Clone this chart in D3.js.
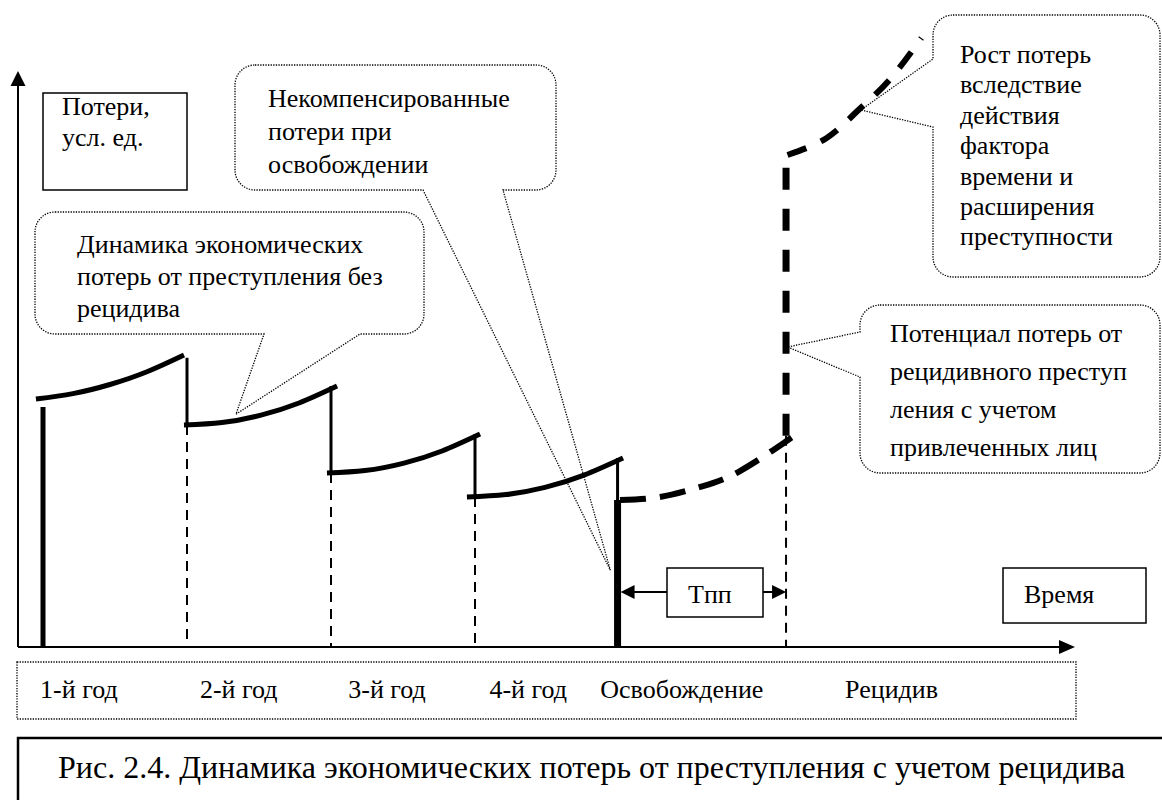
<!DOCTYPE html>
<html>
<head>
<meta charset="utf-8">
<script src="https://cdn.jsdelivr.net/npm/d3@7"></script>
<style>
    body { margin: 0; background: #fff; }
</style>
</head>
<body>
<div id="svgcontainer"></div>
<script>
// losses, conventional units; time in years since the crime
var lossSegments = [
    [[-0.049, 41.33], [0.208, 42.23], [0.465, 43.75], [0.722, 45.88], [0.979, 48.67]],
    [[0.979, 37.0], [1.243, 37.4], [1.514, 38.65], [1.778, 40.67], [2.042, 43.5]],
    [[1.972, 29.0], [2.236, 29.4], [2.507, 30.65], [2.771, 32.67], [3.035, 35.5]],
    [[2.944, 25.0], [3.215, 25.4], [3.486, 26.6], [3.757, 28.65], [4.028, 31.5]]
];
var relapseCurve = [[4.007, 24.5], [4.285, 25.0], [4.563, 26.67], [4.84, 29.33], [5.174, 34.5], [5.222, 35.17]];
var growthCurve = [[5.17, 82.0], [5.44, 84.8], [5.65, 89.2], [5.87, 94.3], [6.1, 101.5]];

// thin solid drops at year ends
var yearDrops = [
    { x: 1.0, from: 48.2, to: 37.0 },
    { x: 2.0, from: 43.5, to: 29.0 },
    { x: 3.0, from: 35.5, to: 25.0 },
    { x: 3.99, from: 31.5, to: 24.5 }
];
// thin dashed guides down to the time axis
var guides = [
    { x: 1.0, from: 37.0 },
    { x: 2.0, from: 29.0 },
    { x: 3.0, from: 25.0 },
    { x: 5.16, from: 35.2 }
];
// thick solid bars: start of sentence, release
var bars = [
    { x: 0.0, from: 40.0, w: 5 },
    { x: 3.99, from: 24.5, w: 7 }
];
var relapseJump = { x: 5.16, from: 35.2, to: 82.0 };
var tppSpan = [3.99, 5.16];

var periodLabels = ["1-й год", "2-й год", "3-й год", "4-й год", "Освобождение", "Рецидив"];
var periodStart = [-0.02, 1.09, 2.12, 3.10, 3.87, 5.57];

var notes = [
    { lines: ["Некомпенсированные", "потери при", "освобождении"], tip: [3.94, 12.8] },
    { lines: ["Динамика экономических", "потерь от преступления без", "рецидива"], tip: [1.34, 38.8] },
    { lines: ["Рост потерь", "вследствие", "действия", "фактора", "времени и", "расширения", "преступности"], tip: [5.68, 89.5] },
    { lines: ["Потенциал потерь от", "рецидивного преступ", "ления с учетом", "привлеченных лиц"], tip: [5.17, 50.0] }
];

var caption = "Рис. 2.4. Динамика экономических потерь от преступления с учетом рецидива";

window.onload = function () {

    var width = 1162;
    var height = 800;
    var FONT = 26;
    var FAMILY = "'Liberation Serif', 'DejaVu Serif', serif";

    var x = d3.scaleLinear().domain([0, 4]).range([43, 619]);
    var y = d3.scaleLinear().domain([0, 100]).range([647, 47]);

    var svg = d3.select("#svgcontainer")
        .append("svg").attr("width", width).attr("height", height)
        .attr("font-family", FAMILY);

    function label(sel) {
        return sel.attr("font-family", FAMILY).attr("font-size", FONT).attr("fill", "#000");
    }

    var curve = d3.line()
        .x(function (d) { return x(d[0]); })
        .y(function (d) { return y(d[1]); })
        .curve(d3.curveNatural);

    // Axes
    var x0 = 18, xEnd = 1075, y0 = y(0), yTop = 71;
    svg.append("line").attr("x1", x0).attr("y1", y0).attr("x2", x0).attr("y2", yTop + 12)
        .attr("stroke", "#000").attr("stroke-width", 2);
    svg.append("path").attr("d", "M" + x0 + "," + yTop + "L" + (x0 - 7.5) + "," + (yTop + 15) + "L" + (x0 + 7.5) + "," + (yTop + 15) + "Z");
    svg.append("line").attr("x1", x0).attr("y1", y0).attr("x2", xEnd - 12).attr("y2", y0)
        .attr("stroke", "#000").attr("stroke-width", 2);
    svg.append("path").attr("d", "M" + xEnd + "," + y0 + "L" + (xEnd - 16) + "," + (y0 - 7) + "L" + (xEnd - 16) + "," + (y0 + 7) + "Z");

    // Guides
    svg.selectAll(".guide").data(guides).enter().append("line")
        .attr("x1", function (d) { return x(d.x); })
        .attr("x2", function (d) { return x(d.x); })
        .attr("y1", function (d) { return y(d.from); })
        .attr("y2", y(0))
        .attr("stroke", "#000").attr("stroke-width", 2)
        .attr("stroke-dasharray", "10,7");

    // Year drops
    svg.selectAll(".drop").data(yearDrops).enter().append("line")
        .attr("x1", function (d) { return x(d.x); })
        .attr("x2", function (d) { return x(d.x); })
        .attr("y1", function (d) { return y(d.from); })
        .attr("y2", function (d) { return y(d.to); })
        .attr("stroke", "#000").attr("stroke-width", 3);

    svg.selectAll(".bar").data(bars).enter().append("line")
        .attr("x1", function (d) { return x(d.x); })
        .attr("x2", function (d) { return x(d.x); })
        .attr("y1", function (d) { return y(d.from); })
        .attr("y2", y(0))
        .attr("stroke", "#000")
        .attr("stroke-width", function (d) { return d.w; });

    // Loss curves
    svg.selectAll(".seg").data(lossSegments).enter().append("path")
        .attr("d", curve)
        .attr("fill", "none").attr("stroke", "#000").attr("stroke-width", 5);

    svg.append("path").datum(relapseCurve).attr("d", curve)
        .attr("fill", "none").attr("stroke", "#000").attr("stroke-width", 6)
        .attr("stroke-dasharray", "26,14");

    svg.append("line")
        .attr("x1", x(relapseJump.x)).attr("x2", x(relapseJump.x))
        .attr("y1", y(relapseJump.from)).attr("y2", y(relapseJump.to))
        .attr("stroke", "#000").attr("stroke-width", 7)
        .attr("stroke-dasharray", "22,19");

    svg.append("path").datum(growthCurve).attr("d", curve)
        .attr("fill", "none").attr("stroke", "#000").attr("stroke-width", 6)
        .attr("stroke-dasharray", "20,16");

    // Callouts (rounded rectangles with a wedge)
    var boxes = [
        { x0: 235, y0: 65, x1: 556, y1: 190, side: "bottom", b: [423, 503], tx: 268, ty: 107, lh: 33 },
        { x0: 35, y0: 212, x1: 424, y1: 334, side: "bottom", b: [264, 360], tx: 77, ty: 253, lh: 32 },
        { x0: 933, y0: 15, x1: 1160, y1: 277, side: "left", b: [59, 127], tx: 960, ty: 63, lh: 30.4 },
        { x0: 860, y0: 305, x1: 1160, y1: 473, side: "left", b: [332, 377], tx: 890, ty: 342, lh: 38 }
    ];

    function calloutPath(bx, tip) {
        var r = 20;
        var p = d3.path();
        p.moveTo(bx.x0 + r, bx.y0);
        p.arcTo(bx.x1, bx.y0, bx.x1, bx.y0 + r, r);
        p.arcTo(bx.x1, bx.y1, bx.x1 - r, bx.y1, r);
        if (bx.side === "bottom") {
            p.lineTo(bx.b[1], bx.y1);
            p.lineTo(tip[0], tip[1]);
            p.lineTo(bx.b[0], bx.y1);
        }
        p.arcTo(bx.x0, bx.y1, bx.x0, bx.y1 - r, r);
        if (bx.side === "left") {
            p.lineTo(bx.x0, bx.b[1]);
            p.lineTo(tip[0], tip[1]);
            p.lineTo(bx.x0, bx.b[0]);
        }
        p.arcTo(bx.x0, bx.y0, bx.x0 + r, bx.y0, r);
        p.closePath();
        return p.toString();
    }

    notes.forEach(function (n, i) {
        var bx = boxes[i];
        svg.append("path")
            .attr("d", calloutPath(bx, [x(n.tip[0]), y(n.tip[1])]))
            .attr("fill", "none").attr("stroke", "#000").attr("stroke-width", 1.3)
            .attr("stroke-dasharray", "1.3,1.3");
        svg.append("g").selectAll("text").data(n.lines).enter().append("text")
            .call(label)
            .attr("x", bx.tx)
            .attr("y", function (d, j) { return bx.ty + j * bx.lh; })
            .text(function (d) { return d; });
    });

    // Loss label box
    svg.append("rect").attr("x", 43).attr("y", 93).attr("width", 144).attr("height", 97)
        .attr("fill", "none").attr("stroke", "#000").attr("stroke-width", 1.5);
    svg.append("text").call(label).attr("x", 62).attr("y", 115).text("Потери,");
    svg.append("text").call(label).attr("x", 62).attr("y", 146).text("усл. ед.");

    // Time label box
    svg.append("rect").attr("x", 1003).attr("y", 568).attr("width", 143).attr("height", 55)
        .attr("fill", "none").attr("stroke", "#000").attr("stroke-width", 1.5);
    svg.append("text").call(label).attr("x", 1024).attr("y", 603).text("Время");

    // Tпп box with arrows
    var ay = 592;
    svg.append("rect").attr("x", 667).attr("y", 568).attr("width", 96).attr("height", 49)
        .attr("fill", "none").attr("stroke", "#000").attr("stroke-width", 1.5);
    svg.append("text").call(label).attr("x", 688).attr("y", 603).text("Tпп");
    var lx = x(tppSpan[0]) + 3, rx = x(tppSpan[1]);
    svg.append("line").attr("x1", 667).attr("x2", lx + 12).attr("y1", ay).attr("y2", ay)
        .attr("stroke", "#000").attr("stroke-width", 2);
    svg.append("path").attr("d", "M" + lx + "," + ay + "L" + (lx + 14) + "," + (ay - 7) + "L" + (lx + 14) + "," + (ay + 7) + "Z");
    svg.append("line").attr("x1", 763).attr("x2", rx - 12).attr("y1", ay).attr("y2", ay)
        .attr("stroke", "#000").attr("stroke-width", 2);
    svg.append("path").attr("d", "M" + rx + "," + ay + "L" + (rx - 14) + "," + (ay - 7) + "L" + (rx - 14) + "," + (ay + 7) + "Z");

    // Period labels
    svg.append("rect").attr("x", 17).attr("y", 662).attr("width", 1059).attr("height", 57)
        .attr("fill", "none").attr("stroke", "#000").attr("stroke-width", 1.3)
        .attr("stroke-dasharray", "1.3,1.3");
    svg.selectAll(".period").data(periodLabels).enter().append("text")
        .call(label)
        .attr("x", function (d, i) { return x(periodStart[i]); })
        .attr("y", 698)
        .text(function (d) { return d; });

    // Caption
    svg.append("path").attr("d", "M1162,738H18V800")
        .attr("fill", "none").attr("stroke", "#000").attr("stroke-width", 2.5);
    svg.append("text").call(label).attr("font-size", 32)
        .attr("x", 58).attr("y", 778).text(caption);
};
</script>
</body>
</html>
